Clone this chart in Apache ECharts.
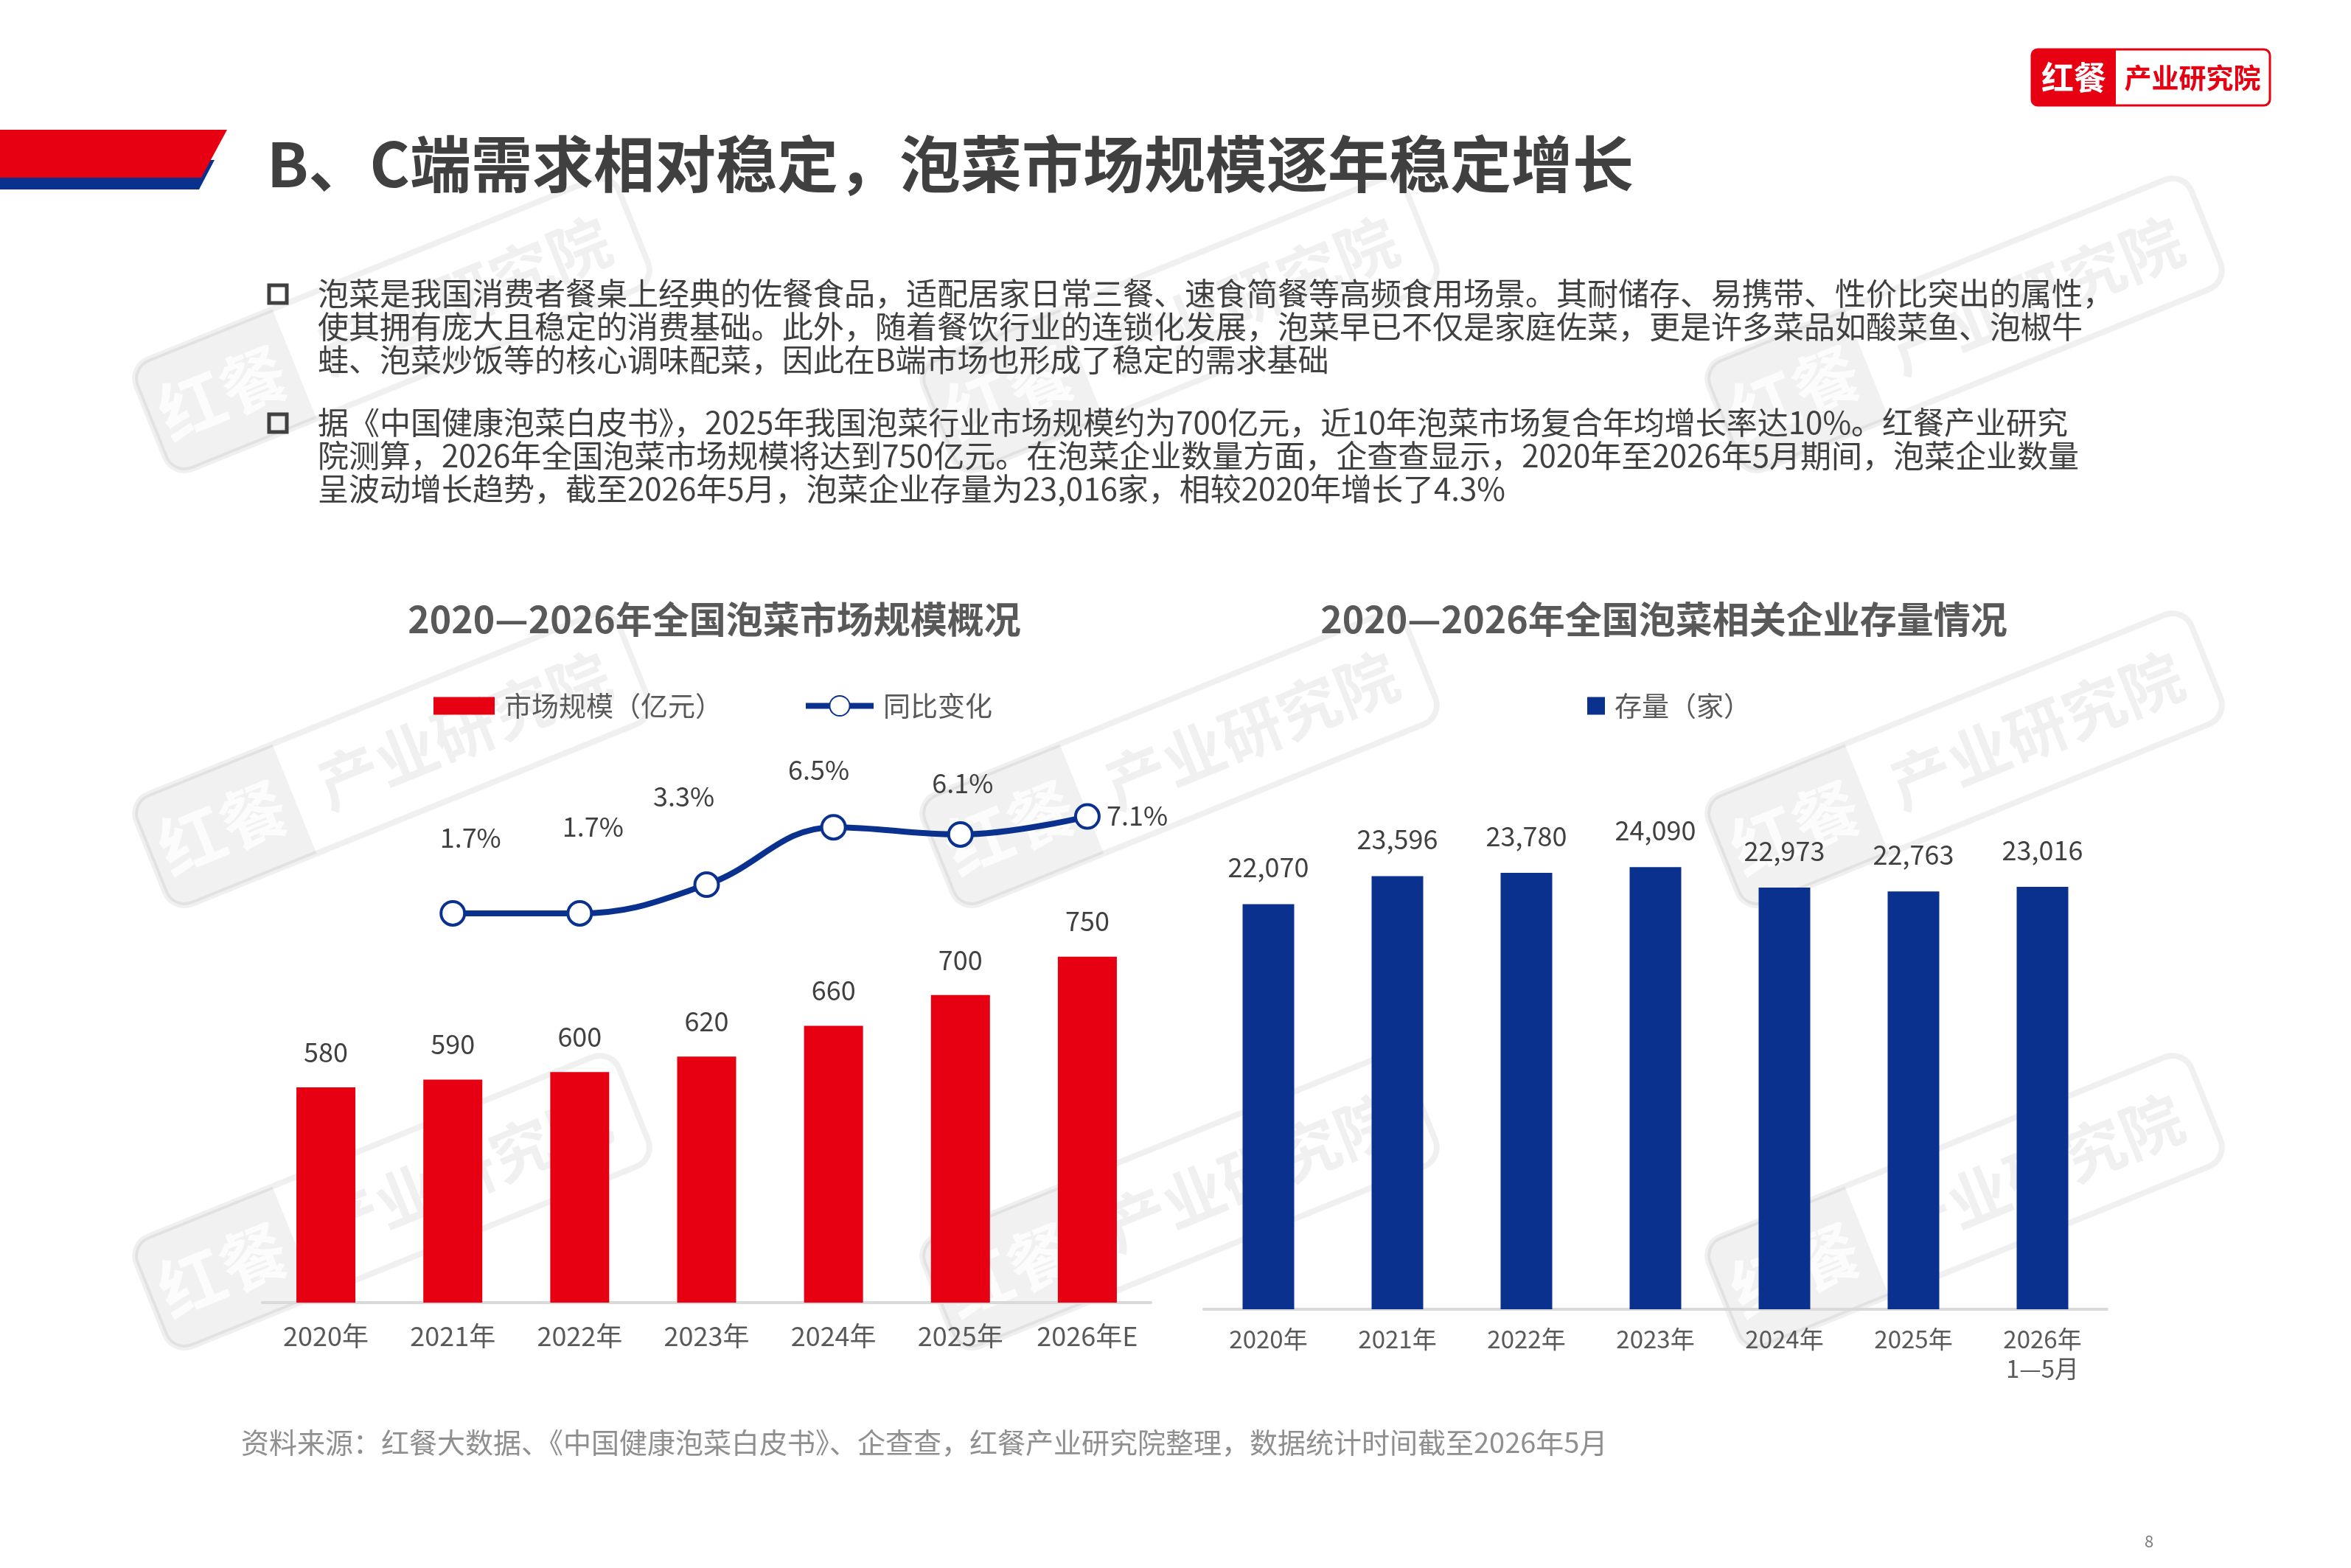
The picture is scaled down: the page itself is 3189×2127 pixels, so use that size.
<!DOCTYPE html>
<html>
<head>
<meta charset="utf-8">
<title>泡菜市场规模与企业存量</title>
<script src="https://cdn.jsdelivr.net/npm/echarts@6/dist/echarts.min.js"></script>
<style>
  html, body { margin: 0; padding: 0; background: #fff; }
  #main { width: 3189px; height: 2127px; }
</style>
</head>
<body>
<div id="main"></div>
<script>
// 左图：全国泡菜市场规模（亿元）与同比变化（%）
var sizeYears = ['2020年', '2021年', '2022年', '2023年', '2024年', '2025年', '2026年E'];
var marketSize = [580, 590, 600, 620, 660, 700, 750];
var yoyRate = [null, 1.7, 1.7, 3.3, 6.5, 6.1, 7.1];

// 右图：全国泡菜相关企业存量（家）
var stockYears = ['2020年', '2021年', '2022年', '2023年', '2024年', '2025年', '2026年\n1—5月'];
var stockCount = [22070, 23596, 23780, 24090, 22973, 22763, 23016];

var pageTitle = 'B、C端需求相对稳定，泡菜市场规模逐年稳定增长';
var para1 = [
  '泡菜是我国消费者餐桌上经典的佐餐食品，适配居家日常三餐、速食简餐等高频食用场景。其耐储存、易携带、性价比突出的属性，',
  '使其拥有庞大且稳定的消费基础。此外，随着餐饮行业的连锁化发展，泡菜早已不仅是家庭佐菜，更是许多菜品如酸菜鱼、泡椒牛',
  '蛙、泡菜炒饭等的核心调味配菜，因此在B端市场也形成了稳定的需求基础'
];
var para2 = [
  '据《中国健康泡菜白皮书》，2025年我国泡菜行业市场规模约为700亿元，近10年泡菜市场复合年均增长率达10%。红餐产业研究',
  '院测算，2026年全国泡菜市场规模将达到750亿元。在泡菜企业数量方面，企查查显示，2020年至2026年5月期间，泡菜企业数量',
  '呈波动增长趋势，截至2026年5月，泡菜企业存量为23,016家，相较2020年增长了4.3%'
];
var leftTitle = '2020—2026年全国泡菜市场规模概况';
var rightTitle = '2020—2026年全国泡菜相关企业存量情况';
var sourceNote = '资料来源：红餐大数据、《中国健康泡菜白皮书》、企查查，红餐产业研究院整理，数据统计时间截至2026年5月';

var RED = '#E60012';
var BLUE = '#0B318F';
var FONT = 'Noto Sans CJK SC';

// 同比标签在原图里是手工摆放的，这里用偏移还原
var yoyLabelOffset = [null, [24, -62], [18, -77], [-31, -79], [-20, -37], [3, -29], [3, -1]];

// 水印（压在柱子上，但在正文文字下面）
function watermark(cx, cy) {
  return {
    type: 'group', x: cx, y: cy, rotation: 22 * Math.PI / 180, z: 100, silent: true,
    children: [
      { type: 'rect', shape: { x: -353, y: -80, width: 706, height: 160, r: 28 },
        style: { fill: 'none', stroke: 'rgba(0,0,0,0.06)', lineWidth: 8 } },
      { type: 'rect', shape: { x: -353, y: -80, width: 210, height: 160, r: [28, 0, 0, 28] },
        style: { fill: 'rgba(0,0,0,0.055)' } },
      { type: 'text', x: -248, y: 0,
        style: { text: '红餐', fontSize: 90, fontWeight: 'bold', fontFamily: FONT,
          fill: 'rgba(255,255,255,0.8)', align: 'center', verticalAlign: 'middle' } },
      { type: 'text', x: 105, y: 0,
        style: { text: '产业研究院', fontSize: 84, fontWeight: 'bold', fontFamily: FONT,
          fill: 'rgba(0,0,0,0.06)', align: 'center', verticalAlign: 'middle' } }
    ]
  };
}

var TOP = 120;
var graphics = [
  // 左上角色条
  { type: 'polygon', shape: { points: [[0, 217], [291, 217], [270, 257], [0, 257]] }, style: { fill: BLUE } },
  { type: 'polygon', shape: { points: [[0, 176], [308, 176], [273, 241], [0, 241]] }, style: { fill: RED } },
  { type: 'text', x: 362, y: 222, z: TOP,
    style: { text: pageTitle, fontSize: 83, fontWeight: 'bold', fontFamily: FONT, fill: '#404040', verticalAlign: 'middle' } },
  // logo
  { type: 'rect', shape: { x: 2756, y: 67, width: 323, height: 76, r: 8 }, style: { fill: '#fff', stroke: RED, lineWidth: 3 } },
  { type: 'rect', shape: { x: 2756, y: 67, width: 114, height: 76, r: [8, 0, 0, 8] }, style: { fill: RED } },
  { type: 'text', x: 2813, y: 105,
    style: { text: '红餐', fontSize: 44, fontWeight: 'bold', fontFamily: FONT, fill: '#fff', align: 'center', verticalAlign: 'middle' } },
  { type: 'text', x: 2974, y: 106,
    style: { text: '产业研究院', fontSize: 37, fontWeight: 'bold', fontFamily: FONT, fill: RED, align: 'center', verticalAlign: 'middle' } },
  // 正文
  { type: 'rect', z: TOP, shape: { x: 365, y: 387, width: 24, height: 24 }, style: { fill: 'none', stroke: '#404040', lineWidth: 5 } },
  { type: 'text', x: 431, y: 376, z: TOP,
    style: { text: para1.join('\n'), fontSize: 42, lineHeight: 45, fontFamily: FONT, fill: '#404040' } },
  { type: 'rect', z: TOP, shape: { x: 365, y: 562, width: 24, height: 24 }, style: { fill: 'none', stroke: '#404040', lineWidth: 5 } },
  { type: 'text', x: 431, y: 551, z: TOP,
    style: { text: para2.join('\n'), fontSize: 42, lineHeight: 45, fontFamily: FONT, fill: '#404040' } },
  // 图表标题
  { type: 'text', x: 969, y: 840, z: TOP,
    style: { text: leftTitle, fontSize: 50, fontWeight: 'bold', fontFamily: FONT, fill: '#595959', align: 'center', verticalAlign: 'middle' } },
  { type: 'text', x: 2257, y: 840, z: TOP,
    style: { text: rightTitle, fontSize: 50, fontWeight: 'bold', fontFamily: FONT, fill: '#595959', align: 'center', verticalAlign: 'middle' } },
  // 来源与页码
  { type: 'text', x: 327, y: 1957, z: TOP,
    style: { text: sourceNote, fontSize: 38, fontFamily: FONT, fill: '#8f8f8f', verticalAlign: 'middle' } },
  { type: 'text', x: 2915, y: 2091,
    style: { text: '8', fontSize: 22, fontFamily: FONT, fill: '#7f7f7f', align: 'center', verticalAlign: 'middle' } }
];
[532, 1600, 2665].forEach(function (cx) {
  [440, 1030, 1630].forEach(function (cy) { graphics.push(watermark(cx, cy)); });
});

var legendText = { fontSize: 37, color: '#595959', fontFamily: FONT, padding: [0, 0, 0, 8] };
var axisLabelStyle = { color: '#595959', fontFamily: FONT, interval: 0 };

var chart = echarts.init(document.getElementById('main'), null, { renderer: 'canvas' });
chart.setOption({
  backgroundColor: '#fff',
  animation: false,
  textStyle: { fontFamily: FONT },
  graphic: graphics,
  legend: [
    { data: [{ name: '市场规模（亿元）', icon: 'rect' }], left: 583, top: 934,
      itemWidth: 83, itemHeight: 24, textStyle: legendText },
    { data: [{ name: '同比变化', lineStyle: { width: 8 } }], left: 1084, top: 934,
      itemWidth: 92, itemHeight: 34, textStyle: legendText },
    { data: [{ name: '存量（家）', icon: 'rect' }], left: 2148, top: 934,
      itemWidth: 24, itemHeight: 24, textStyle: legendText }
  ],
  grid: [
    { left: 356, top: 1037, width: 1205, height: 730 },
    { left: 1633, top: 1029, width: 1225, height: 747 }
  ],
  xAxis: [
    { type: 'category', gridIndex: 0, data: sizeYears,
      axisLine: { onZero: false, lineStyle: { color: '#d9d9d9', width: 4 } }, axisTick: { show: false },
      axisLabel: Object.assign({ fontSize: 36, lineHeight: 40, margin: 25 }, axisLabelStyle) },
    { type: 'category', gridIndex: 1, data: stockYears,
      axisLine: { onZero: false, lineStyle: { color: '#d9d9d9', width: 4 } }, axisTick: { show: false },
      axisLabel: Object.assign({ fontSize: 33, lineHeight: 40, margin: 20 }, axisLabelStyle) }
  ],
  yAxis: [
    { type: 'value', gridIndex: 0, min: 300, max: 1000, show: false },
    { type: 'value', gridIndex: 0, min: -20, max: 10, show: false },
    { type: 'value', gridIndex: 1, min: 0, max: 30000, show: false }
  ],
  series: [
    {
      name: '市场规模（亿元）', type: 'bar', xAxisIndex: 0, yAxisIndex: 0,
      data: marketSize, barWidth: 80, itemStyle: { color: RED },
      label: { show: true, position: 'top', distance: 30, fontSize: 36, color: '#404040', fontFamily: FONT }
    },
    {
      name: '同比变化', type: 'line', xAxisIndex: 0, yAxisIndex: 1, z: 5,
      data: yoyRate.map(function (v, i) {
        if (v == null) return '-';
        var last = i === yoyRate.length - 1;
        return { value: v, label: { position: last ? 'right' : 'top', offset: yoyLabelOffset[i] } };
      }),
      smooth: 0.4, symbol: 'circle', symbolSize: 32,
      lineStyle: { width: 8, color: BLUE },
      itemStyle: { color: '#fff', borderColor: BLUE, borderWidth: 4 },
      label: { show: true, fontSize: 36, color: '#404040', fontFamily: FONT,
        formatter: function (p) { return p.value.toFixed(1) + '%'; } }
    },
    {
      name: '存量（家）', type: 'bar', xAxisIndex: 1, yAxisIndex: 2,
      data: stockCount, barWidth: 70, itemStyle: { color: BLUE },
      label: { show: true, position: 'top', distance: 32, fontSize: 36, color: '#404040', fontFamily: FONT,
        formatter: function (p) { return p.value.toLocaleString('en-US'); } }
    }
  ]
});
</script>
</body>
</html>
